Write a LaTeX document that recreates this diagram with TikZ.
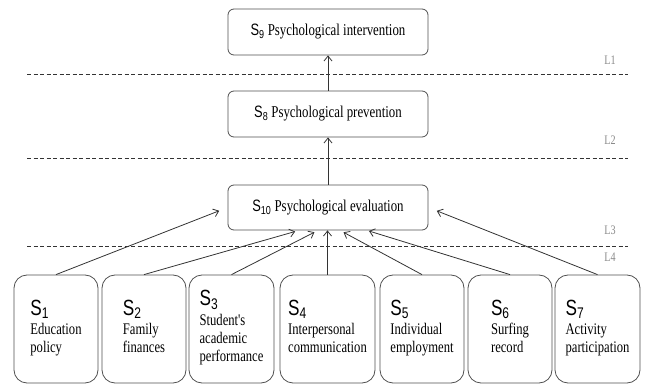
\documentclass[tikz,border=0pt]{standalone}
\usepackage{fontspec}
\setmainfont{Liberation Serif}
\setsansfont{Liberation Sans}
\newfontfamily\serifplain{Liberation Serif}
\usetikzlibrary{arrows.meta,calc}
\definecolor{boxgray}{HTML}{505050}
\definecolor{arrgray}{HTML}{333333}
\definecolor{levgray}{HTML}{8A8A8A}
\newcommand\sqz[1]{\scalebox{0.78}[1]{#1}}
\newcommand\topS[1]{{\sffamily S\textsubscript{#1}}}
\newcommand\botS[1]{{\fontsize{22}{22}\selectfont\sffamily S\textsubscript{#1}}}
\newcommand\botT[2]{\sqz{\begin{tabular}{@{}l@{}}\botS{#1}\\[1.5pt]#2\end{tabular}}}
\begin{document}
\begin{tikzpicture}[x=1pt,y=-1pt,
  topbox/.style={draw=boxgray, line width=0.8pt, rounded corners=6pt, minimum width=200pt, minimum height=46pt, inner sep=0pt, font=\fontsize{16.5}{19}\selectfont},
  botbox/.style={draw=boxgray, line width=0.8pt, rounded corners=13pt, minimum height=108pt, inner sep=0pt, font=\fontsize{16.2}{18.2}\selectfont},
  arr/.style={draw=arrgray, line width=0.8pt, -{Straight Barb[length=5pt,width=8pt]}},
  sepline/.style={draw=black!80, line width=0.7pt, dash pattern=on 4pt off 2.5pt},
  lev/.style={text=levgray, font=\fontsize{13}{13}\selectfont, inner sep=0pt}]
\useasboundingbox (0,0) rectangle (649,385);
% separators
\draw[sepline] (27,74) -- (628,74);
\draw[sepline] (27,158) -- (628,158);
\draw[sepline] (27,246) -- (628,246);
% level labels
\node[lev] (l1) at (610,60) {\sqz{L1}};
\node[lev] (l2) at (610,140) {\sqz{L2}};
\node[lev] (l3) at (610,230) {\sqz{L3}};
\node[lev] (l4) at (610,257) {\sqz{L4}};
% top boxes
\node[topbox] (s9) at (328,32) {\sqz{\topS{9} Psychological intervention}};
\node[topbox] (s8) at (328,114) {\sqz{\topS{8} Psychological prevention}};
\node[topbox, minimum height=45pt] (s10) at (328,207.5) {\sqz{\topS{10} Psychological evaluation}};
% bottom boxes
\node[botbox, minimum width=84pt] (s1) at (56,329) {\botT{1}{Education\\policy}};
\node[botbox, minimum width=84pt] (s2) at (144,329) {\botT{2}{Family\\finances}};
\node[botbox, minimum width=85pt] (s3) at (231.5,329) {\botT{3}{{\serifplain Student's}\\academic\\performance}};
\node[botbox, minimum width=95pt] (s4) at (327.5,329) {\botT{4}{Interpersonal\\communication}};
\node[botbox, minimum width=84pt] (s5) at (422,329) {\botT{5}{Individual\\employment}};
\node[botbox, minimum width=84pt] (s6) at (510,329) {\botT{6}{Surfing\\record}};
\node[botbox, minimum width=85pt] (s7) at (597.5,329) {\botT{7}{Activity\\participation}};
% connectors
\draw[arr] (s8) -- (s9);
\draw[arr] (s10) -- (s8);
\draw[arr, shorten >=9pt] (s1.north) -- (s10.west);
\draw[arr, shorten >=4pt] (s2.north) -- ($(s10.south)+(-29,0)$);
\draw[arr, shorten >=4pt] (s3.north) -- ($(s10.south)+(-10,0)$);
\draw[arr] (s4.north) -- (s4.north |- s10.south);
\draw[arr, shorten >=4pt] (s5.north) -- ($(s10.south)+(12,0)$);
\draw[arr, shorten >=2pt] (s6.north) -- ($(s10.south)+(39,0)$);
\draw[arr, shorten >=9pt] (s7.north) -- (s10.east);
\end{tikzpicture}
\end{document}
